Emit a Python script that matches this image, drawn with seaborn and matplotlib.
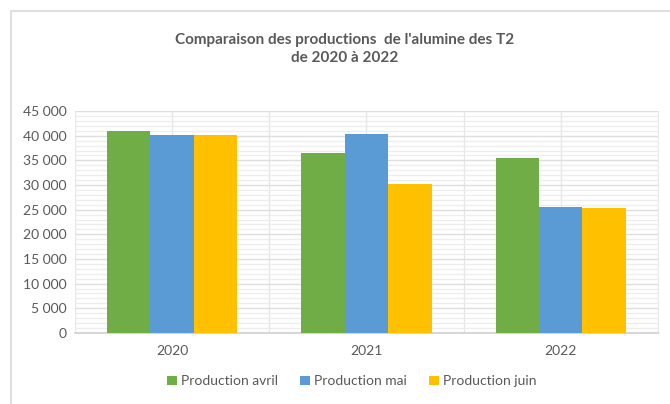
import pandas as pd
import matplotlib.pyplot as plt
import seaborn as sns
from matplotlib.ticker import FuncFormatter, MultipleLocator

# Data
years = ['2020', '2021', '2022']
production_avril = [41000, 36600, 35500]
production_mai = [40200, 40300, 25500]
production_juin = [40200, 30300, 25300]
series_names = ['Production avril', 'Production mai', 'Production juin']
colors = ['#70AD47', '#5B9BD5', '#FFC000']

df = pd.DataFrame({
    'year': years * 3,
    'value': production_avril + production_mai + production_juin,
    'serie': [s for s in series_names for _ in years],
})

sns.set_style('white')
plt.rcParams['font.family'] = ['Lato', 'DejaVu Sans']
text_color = '#595959'

fig = plt.figure(figsize=(6.7, 4.04), dpi=100)
ax = fig.add_axes([0.112, 0.176, 0.870, 0.549])

sns.barplot(data=df, x='year', y='value', hue='serie', palette=colors,
            width=0.67, saturation=1, linewidth=0, ax=ax, zorder=3)

ax.set_ylim(0, 45000)
ax.set_xlim(-0.5, 2.5)
ax.yaxis.set_major_locator(MultipleLocator(5000))
ax.yaxis.set_minor_locator(MultipleLocator(1000))
ax.yaxis.set_major_formatter(FuncFormatter(lambda v, p: f'{int(v):,}'.replace(',', ' ')))
ax.grid(axis='y', which='major', color='#DEDEDE', linewidth=1.0, zorder=0)
ax.grid(axis='y', which='minor', color='#EDEDED', linewidth=0.9, zorder=0)

# vertical gridlines at category centres and boundaries
for xv in [-0.5, 0, 0.5, 1, 1.5, 2, 2.5]:
    ax.axvline(xv, color='#E6E6E6', linewidth=1.0, zorder=0)

for side in ['top', 'left']:
    ax.spines[side].set_visible(False)
ax.spines['right'].set_color('#EBEBEB')
ax.spines['bottom'].set_color('#D0D0D0')
ax.spines['bottom'].set_linewidth(1.2)

ax.tick_params(axis='both', which='both', length=0, colors=text_color, labelsize=10)
ax.tick_params(axis='x', pad=9)
ax.tick_params(axis='y', pad=6)
ax.set_xlabel('')
ax.set_ylabel('')

ax.legend(loc='upper center', bbox_to_anchor=(0.475, -0.135), ncol=3, frameon=False,
          fontsize=10, labelcolor=text_color, handlelength=0.7, handleheight=0.7,
          handletextpad=0.3, columnspacing=1.6)

fig.text(0.515, 0.879, "Comparaison des productions  de l'alumine des T2\nde 2020 à 2022",
         ha='center', va='center', fontsize=11, fontweight='bold',
         color=text_color, linespacing=1.4)

# chart frame (top and left edges)
fig.add_artist(plt.Line2D([0.016, 0.016], [0, 0.972], color='#D9D9D9', linewidth=1.2))
fig.add_artist(plt.Line2D([0.016, 1.0], [0.972, 0.972], color='#D9D9D9', linewidth=1.2))

fig.savefig('out.png', dpi=100)
